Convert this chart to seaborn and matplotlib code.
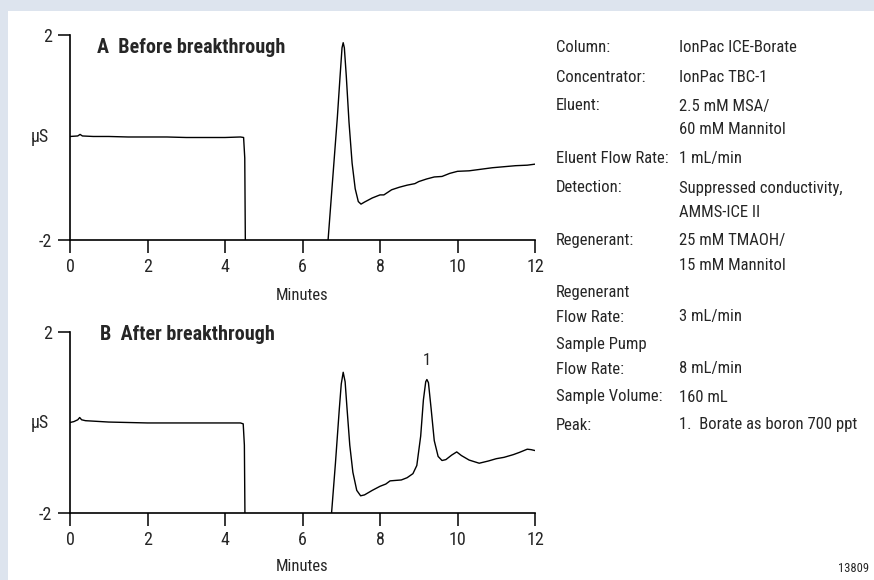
import numpy as np
import pandas as pd
import matplotlib
matplotlib.use("Agg")
import matplotlib.pyplot as plt
from matplotlib import font_manager
from matplotlib.patches import Rectangle
import seaborn as sns

# chromatogram A - before breakthrough (minutes, uS)
time_a = [0.0, 0.2, 0.26, 0.32, 0.6, 1.0, 1.5, 2.0, 2.5, 3.0, 3.5, 4.0, 4.4, 4.48, 4.51, 4.53,
          5.5, 6.63, 6.66, 6.8, 6.9, 6.97, 7.02, 7.05, 7.08, 7.13, 7.2, 7.28, 7.36, 7.44, 7.51,
          7.6, 7.8, 8.0, 8.1, 8.3, 8.5, 8.7, 8.9, 9.0, 9.2, 9.4, 9.6, 9.8, 10.0, 10.3, 10.6,
          10.9, 11.2, 11.5, 11.8, 12.0]
signal_a = [0.02, 0.03, 0.06, 0.03, 0.02, 0.02, 0.01, 0.01, 0.01, 0.0, 0.0, 0.0, 0.01, 0.0, -0.4, -2.6,
            -2.6, -2.6, -2.0, -0.6, 0.4, 1.2, 1.75, 1.85, 1.75, 1.2, 0.3, -0.5, -1.0, -1.25, -1.30,
            -1.26, -1.18, -1.12, -1.12, -1.02, -0.97, -0.93, -0.90, -0.86, -0.81, -0.77, -0.76, -0.70, -0.66, -0.65, -0.62,
            -0.59, -0.57, -0.55, -0.54, -0.52]

# chromatogram B - after breakthrough
time_b = [0.0, 0.1, 0.2, 0.25, 0.3, 0.4, 0.6, 1.0, 1.5, 2.0, 2.5, 3.0, 3.5, 4.0, 4.4, 4.47, 4.5, 4.52,
          5.5, 6.72, 6.75, 6.85, 6.95, 7.0, 7.05, 7.1, 7.15, 7.22, 7.3, 7.4, 7.5, 7.6, 7.8, 8.0,
          8.15, 8.26, 8.4, 8.55, 8.7, 8.85, 8.95, 9.05, 9.12, 9.18, 9.21, 9.25, 9.32, 9.4, 9.5,
          9.6, 9.7, 9.85, 9.98, 10.1, 10.3, 10.56, 10.8, 11.0, 11.2, 11.44, 11.6, 11.8, 11.9, 12.0]
signal_b = [0.0, 0.02, 0.06, 0.11, 0.06, 0.04, 0.03, 0.01, 0.0, -0.01, -0.01, -0.01, -0.01, -0.01, -0.01, -0.03, -0.5, -2.6,
            -2.6, -2.6, -2.0, -0.9, 0.3, 0.85, 1.11, 0.9, 0.3, -0.5, -1.1, -1.5, -1.62, -1.6, -1.5, -1.41,
            -1.36, -1.29, -1.28, -1.27, -1.22, -1.13, -0.95, -0.3, 0.5, 0.9, 0.95, 0.88, 0.3, -0.4, -0.75,
            -0.84, -0.82, -0.72, -0.65, -0.73, -0.83, -0.90, -0.85, -0.80, -0.77, -0.71, -0.66, -0.59, -0.60, -0.62]

x_ticks = [0, 2, 4, 6, 8, 10, 12]
y_ticks = [-2, 2]
y_tick_labels = ["-2", "2"]
panel_titles = ["A  Before breakthrough", "B  After breakthrough"]
peak_label = "1"
peak_label_pos = (9.22, 1.37)

cond_labels = ["Column:", "Concentrator:", "Eluent:", "", "Eluent Flow Rate:", "Detection:", "",
               "Regenerant:", "", "Regenerant", "Flow Rate:", "Sample Pump", "Flow Rate:",
               "Sample Volume:", "Peak:"]
cond_values = ["IonPac ICE-Borate", "IonPac TBC-1", "2.5 mM MSA/", "60 mM Mannitol", "1 mL/min",
               "Suppressed conductivity,", "AMMS-ICE II", "25 mM TMAOH/", "15 mM Mannitol", "",
               "3 mL/min", "", "8 mL/min", "160 mL", "1.  Borate as boron 700 ppt"]
cond_rows_y = [48, 77, 106, 130, 159, 188, 212, 241, 265, 293, 317, 345, 369, 397, 425]

sns.set_theme(style="white")
names = {f.name for f in font_manager.fontManager.ttflist}
narrow = [n for n in ["Liberation Sans Narrow", "Roboto Condensed", "Open Sans Condensed"] if n in names]
if narrow:
    font = narrow[0]
    k = 1.0
else:
    font = "Liberation Sans"
    k = 0.9
plt.rcParams["font.family"] = [font, "DejaVu Sans"]

W, H = 874, 580
fig = plt.figure(figsize=(W / 100, H / 100), dpi=100, facecolor="#dde4ee")
fig.patches.append(Rectangle((8 / W, 0), 1, (H - 11) / H, transform=fig.transFigure,
                             facecolor="white", edgecolor="none", zorder=-10))

# axes boxes in pixels: left, top, right, bottom
boxes = [(70, 35, 535, 240), (70, 332, 535, 513)]
xlabel_y = [-0.273, -0.297]
title_pos = [(0.058, 0.941), (0.0645, 0.985)]

frames = [pd.DataFrame({"Minutes": time_a, "uS": signal_a}),
          pd.DataFrame({"Minutes": time_b, "uS": signal_b})]

axes = []
for i, (l, t, r, b) in enumerate(boxes):
    ax = fig.add_axes([l / W, (H - b) / H, (r - l) / W, (b - t) / H])
    ax.set_facecolor("none")
    sns.lineplot(data=frames[i], x="Minutes", y="uS", ax=ax, color="black",
                 linewidth=1.0, estimator=None, sort=False)
    ax.set_xlim(0, 12)
    ax.set_ylim(-2, 2)
    ax.set_xticks(x_ticks)
    ax.set_yticks(y_ticks)
    ax.set_yticklabels(y_tick_labels)
    for s in ["top", "right"]:
        ax.spines[s].set_visible(False)
    for s in ["left", "bottom"]:
        ax.spines[s].set_linewidth(1.2)
        ax.spines[s].set_color("black")
    ax.tick_params(bottom=True, left=True, direction="out", length=9, width=1.1,
                   color="black", labelsize=13, pad=4)
    ax.set_xlabel("Minutes", fontsize=12 * k)
    ax.xaxis.set_label_coords(0.5, xlabel_y[i])
    ax.xaxis.label.set_va("center")
    ax.set_ylabel("µS", fontsize=13 * k, rotation=0)
    ax.yaxis.set_label_coords(-0.0645, 0.5)
    ax.yaxis.label.set_va("center")
    ax.yaxis.label.set_ha("center")
    ax.text(title_pos[i][0], title_pos[i][1], panel_titles[i], transform=ax.transAxes,
            fontsize=14.5 * k, fontweight="bold", ha="left", va="center")
    axes.append(ax)

axes[1].text(peak_label_pos[0], peak_label_pos[1], peak_label, fontsize=12 * k,
             ha="center", va="center")

for lab, val, y in zip(cond_labels, cond_values, cond_rows_y):
    if lab:
        fig.text(556 / W, 1 - y / H, lab, fontsize=12 * k, ha="left", va="center")
    if val:
        fig.text(679 / W, 1 - y / H, val, fontsize=12 * k, ha="left", va="center")

fig.text(869 / W, 1 - 569 / H, "13809", fontsize=9 * k, ha="right", va="center")

fig.savefig("out.png", dpi=100, facecolor=fig.get_facecolor())
